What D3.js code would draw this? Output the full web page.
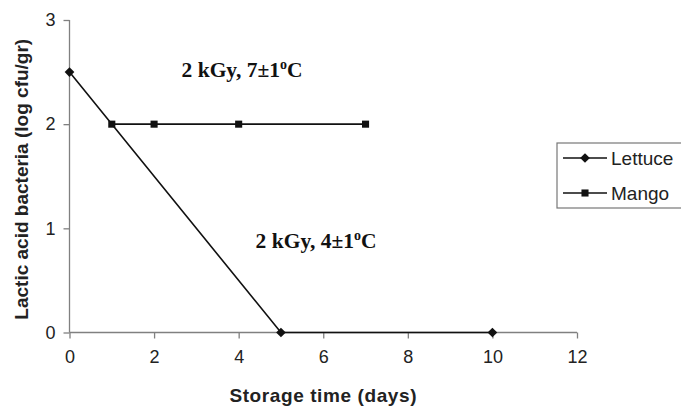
<!DOCTYPE html>
<html><head><meta charset="utf-8">
<script src="https://cdn.jsdelivr.net/npm/d3@7"></script>
<style>body{margin:0;background:#fff}svg{display:block}</style>
</head><body>
<svg id="c" width="681" height="408"></svg>
<script>
const lettuceDays = [0, 5, 10];
const lettuceValues = [2.5, 0, 0];
const mangoDays = [1, 2, 4, 7];
const mangoValues = [2, 2, 2, 2];
const xTicks = [0, 2, 4, 6, 8, 10, 12];
const yTicks = [0, 1, 2, 3];
const seriesNames = ["Lettuce", "Mango"];
const annotations = [
  {text: "2 kGy, 7±1", sup: "o", tail: "C", x: 2.65, y: 2.45},
  {text: "2 kGy, 4±1", sup: "o", tail: "C", x: 4.4, y: 0.81}
];

const svg = d3.select("#c");
const x = d3.scaleLinear().domain([0, 12]).range([69.5, 577]);
const y = d3.scaleLinear().domain([0, 3]).range([332.5, 20]);
const axisColor = "#808080";
const font = "'Liberation Sans', Arial, sans-serif";

// axes
const gx = svg.append("g").attr("transform", `translate(0,${y(0)})`)
  .call(d3.axisBottom(x).tickValues(xTicks).tickSize(6).tickPadding(12).tickFormat(d3.format("d")));
const gy = svg.append("g").attr("transform", `translate(${x(0)},0)`)
  .call(d3.axisLeft(y).tickValues(yTicks).tickSize(6).tickPadding(8).tickFormat(d3.format("d")));
[gx, gy].forEach(g => {
  g.select(".domain").attr("stroke", axisColor).attr("stroke-width", 1.3);
  g.selectAll(".tick line").attr("stroke", axisColor).attr("stroke-width", 1.3);
  g.selectAll(".tick text").attr("fill", "#222").attr("font-family", font).attr("font-size", 18);
});
gx.select(".domain").attr("d", `M${x(0)},0H${x(12)}`);
gy.select(".domain").attr("d", `M0,${y(3)}V${y(0)}`);

// axis titles
svg.append("text").attr("x", (x(0) + x(12)) / 2).attr("y", 402)
  .attr("text-anchor", "middle").attr("font-family", font).attr("font-weight", "bold")
  .attr("font-size", 19).attr("letter-spacing", 0.6).attr("fill", "#222").text("Storage time (days)");
svg.append("text").attr("transform", `translate(28,${(y(0) + y(3)) / 2 + 3}) rotate(-90)`)
  .attr("text-anchor", "middle").attr("font-family", font).attr("font-weight", "bold")
  .attr("font-size", 19).attr("fill", "#222").text("Lactic acid bacteria (log cfu/gr)");

// series
const line = d3.line().x(d => x(d[0])).y(d => y(d[1]));
const lettuce = lettuceDays.map((d, i) => [d, lettuceValues[i]]);
const mango = mangoDays.map((d, i) => [d, mangoValues[i]]);
svg.append("path").datum(lettuce).attr("d", line).attr("fill", "none").attr("stroke", "#111").attr("stroke-width", 1.6);
svg.append("path").datum(mango).attr("d", line).attr("fill", "none").attr("stroke", "#111").attr("stroke-width", 1.6);
const diamond = d3.symbol().type(d3.symbolDiamond2).size(60);
const square = d3.symbol().type(d3.symbolSquare2).size(64);
svg.selectAll(".ld").data(lettuce).join("path")
  .attr("transform", d => `translate(${x(d[0])},${y(d[1])})`).attr("d", diamond).attr("fill", "#111");
svg.selectAll(".md").data(mango).join("path")
  .attr("transform", d => `translate(${x(d[0])},${y(d[1])})`).attr("d", square).attr("fill", "#111");

// annotations
annotations.forEach(a => {
  const t = svg.append("text").attr("x", x(a.x)).attr("y", y(a.y))
    .attr("font-family", "'Liberation Serif', 'Times New Roman', serif").attr("font-weight", "bold")
    .attr("font-size", 21.5).attr("fill", "#111");
  t.append("tspan").text(a.text);
  t.append("tspan").attr("dy", -8).attr("font-size", 14).text(a.sup);
  t.append("tspan").attr("dy", 8).text(a.tail);
});

// legend
const lg = svg.append("g");
lg.append("rect").attr("x", 557).attr("y", 143).attr("width", 130).attr("height", 65)
  .attr("fill", "#fff").attr("stroke", "#777").attr("stroke-width", 1.2);
const syms = [diamond, square];
seriesNames.forEach((n, i) => {
  const cy = 158 + i * 35;
  lg.append("line").attr("x1", 563).attr("x2", 607).attr("y1", cy).attr("y2", cy).attr("stroke", "#111").attr("stroke-width", 1.6);
  lg.append("path").attr("transform", `translate(585,${cy})`).attr("d", syms[i]).attr("fill", "#111");
  lg.append("text").attr("x", 611).attr("y", cy + 7).attr("font-family", font)
    .attr("font-size", 19).attr("fill", "#222").text(n);
});
</script>
</body></html>
